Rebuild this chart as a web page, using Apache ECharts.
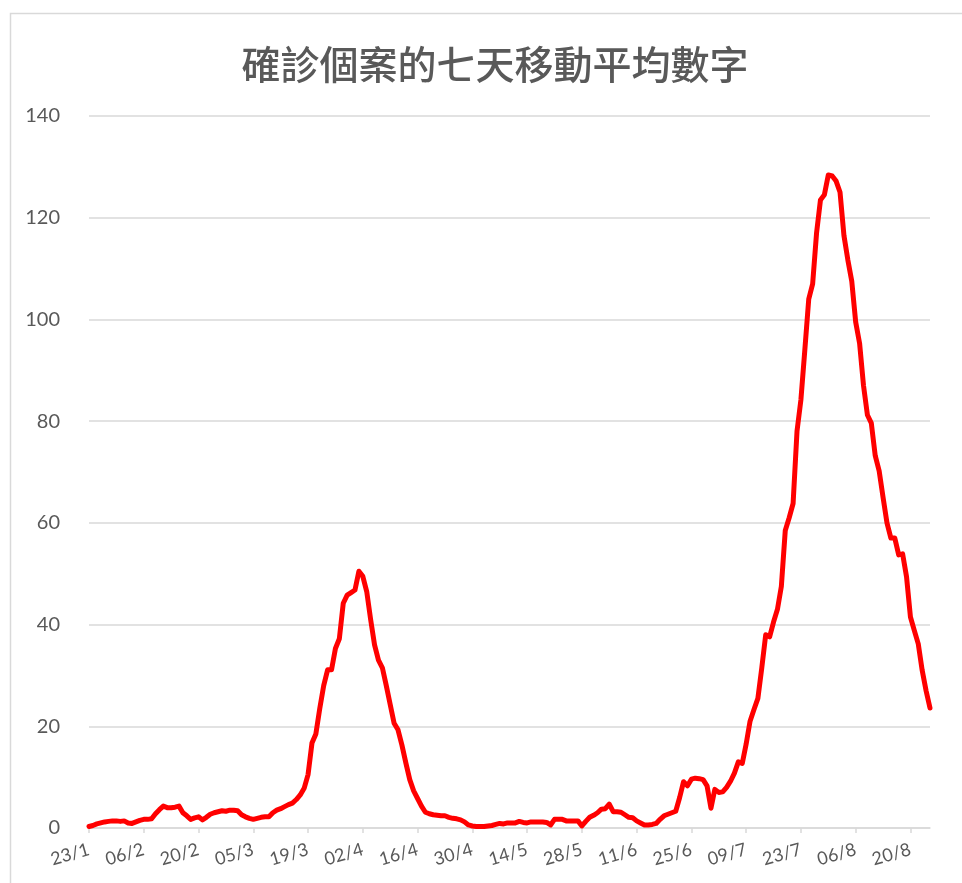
<!DOCTYPE html>
<html>
<head>
<meta charset="utf-8">
<script src="https://cdn.jsdelivr.net/npm/echarts@6/dist/echarts.min.js"></script>
<style>
html,body{margin:0;padding:0;background:#fff;}
#chart{width:962px;height:883px;}
</style>
</head>
<body>
<div id="chart"></div>
<script>
var titleText = '確診個案的七天移動平均數字';
var startDate = [2020, 0, 23];
var dayCount = 216;
var yTicks = [0, 20, 40, 60, 80, 100, 120, 140];
var movingAverage = [
  0.3, 0.5, 0.8, 1.0, 1.2, 1.3, 1.4, 1.4, 1.3, 1.4,
  1.0, 0.9, 1.2, 1.5, 1.7, 1.7, 1.8, 2.8, 3.6, 4.3,
  4.0, 4.0, 4.1, 4.3, 3.0, 2.4, 1.7, 2.0, 2.2, 1.6,
  2.1, 2.7, 3.0, 3.2, 3.4, 3.3, 3.5, 3.5, 3.4, 2.6,
  2.2, 1.9, 1.7, 1.9, 2.1, 2.2, 2.2, 3.0, 3.5, 3.8,
  4.2, 4.6, 4.9, 5.6, 6.5, 7.8, 10.5, 16.7, 18.5, 23.5,
  28.0, 31.1, 31.1, 35.3, 37.2, 44.2, 45.8, 46.3, 46.8, 50.5,
  49.5, 46.5, 41.0, 36.0, 33.0, 31.5, 28.0, 24.3, 20.6, 19.3,
  16.3, 12.8, 9.5, 7.3, 5.8, 4.3, 3.1, 2.8, 2.6, 2.5,
  2.4, 2.4, 2.1, 1.9, 1.8, 1.6, 1.2, 0.6, 0.4, 0.3,
  0.3, 0.3, 0.4, 0.5, 0.7, 0.9, 0.8, 1.0, 1.0, 1.0,
  1.3, 1.1, 1.0, 1.2, 1.2, 1.2, 1.2, 1.1, 0.6, 1.7,
  1.7, 1.7, 1.4, 1.4, 1.4, 1.4, 0.4, 1.3, 2.1, 2.5,
  3.0, 3.7, 3.8, 4.7, 3.2, 3.2, 3.1, 2.6, 2.1, 2.0,
  1.4, 1.0, 0.6, 0.6, 0.7, 0.9, 1.7, 2.4, 2.7, 3.0,
  3.3, 6.0, 9.1, 8.3, 9.6, 9.8, 9.7, 9.5, 8.3, 3.9,
  7.6, 7.0, 7.1, 8.0, 9.2, 10.8, 13.0, 12.7, 16.5, 21.0,
  23.3, 25.5, 31.5, 38.0, 37.6, 40.5, 43.0, 47.5, 58.5, 61.0,
  63.8, 78.0, 84.2, 94.0, 104.0, 107.0, 117.0, 123.5, 124.5, 128.4,
  128.2, 127.2, 125.0, 116.5, 111.7, 107.5, 99.5, 95.3, 87.0, 81.2,
  79.6, 73.2, 70.2, 65.0, 60.0, 57.0, 57.0, 53.7, 53.9, 49.4,
  41.5, 38.8, 36.2, 31.0, 27.0, 23.6
];

// category labels: one per day, formatted dd/m
var dates = [];
for (var i = 0; i < dayCount; i++) {
  var d = new Date(startDate[0], startDate[1], startDate[2] + i);
  var dd = d.getDate();
  dates.push((dd < 10 ? '0' + dd : '' + dd) + '/' + (d.getMonth() + 1));
}

var chart = echarts.init(document.getElementById('chart'), null, {renderer: 'canvas'});
var grey = '#595959';
var lineGrey = '#d9d9d9';
var option = {
  backgroundColor: '#ffffff',
  animation: false,
  title: {
    text: titleText,
    left: 490,
    top: 40,
    textAlign: 'center',
    textStyle: {
      fontFamily: '"Noto Sans CJK TC", "Noto Sans CJK SC", sans-serif',
      fontSize: 39,
      fontWeight: 500,
      color: grey
    }
  },
  graphic: [{
    type: 'rect',
    silent: true,
    shape: {x: 10.5, y: 13.5, width: 970, height: 900},
    style: {fill: 'none', stroke: lineGrey, lineWidth: 1.5}
  }],
  grid: {left: 89, right: 32, top: 116, bottom: 55, containLabel: false},
  xAxis: {
    type: 'category',
    data: dates,
    boundaryGap: false,
    axisLine: {show: true, lineStyle: {color: lineGrey, width: 1.5}},
    axisTick: {show: true, interval: 13, length: 5, lineStyle: {color: lineGrey, width: 1.5}},
    axisLabel: {
      interval: 13,
      rotate: 16,
      margin: 21,
      color: grey,
      fontSize: 18,
      fontFamily: 'Lato, "Open Sans", sans-serif'
    },
    splitLine: {show: false}
  },
  yAxis: {
    type: 'value',
    min: yTicks[0],
    max: yTicks[yTicks.length - 1],
    interval: yTicks[1] - yTicks[0],
    axisLine: {show: false},
    axisTick: {show: false},
    axisLabel: {
      margin: 29,
      color: grey,
      fontSize: 20,
      fontFamily: 'Lato, "Open Sans", sans-serif'
    },
    splitLine: {show: true, lineStyle: {color: lineGrey, width: 1.5}}
  },
  series: [{
    type: 'line',
    data: movingAverage,
    showSymbol: false,
    symbol: 'none',
    smooth: false,
    lineStyle: {color: '#ff0000', width: 5, cap: 'round', join: 'round'},
    itemStyle: {color: '#ff0000'}
  }]
};
chart.setOption(option);
</script>
</body>
</html>
